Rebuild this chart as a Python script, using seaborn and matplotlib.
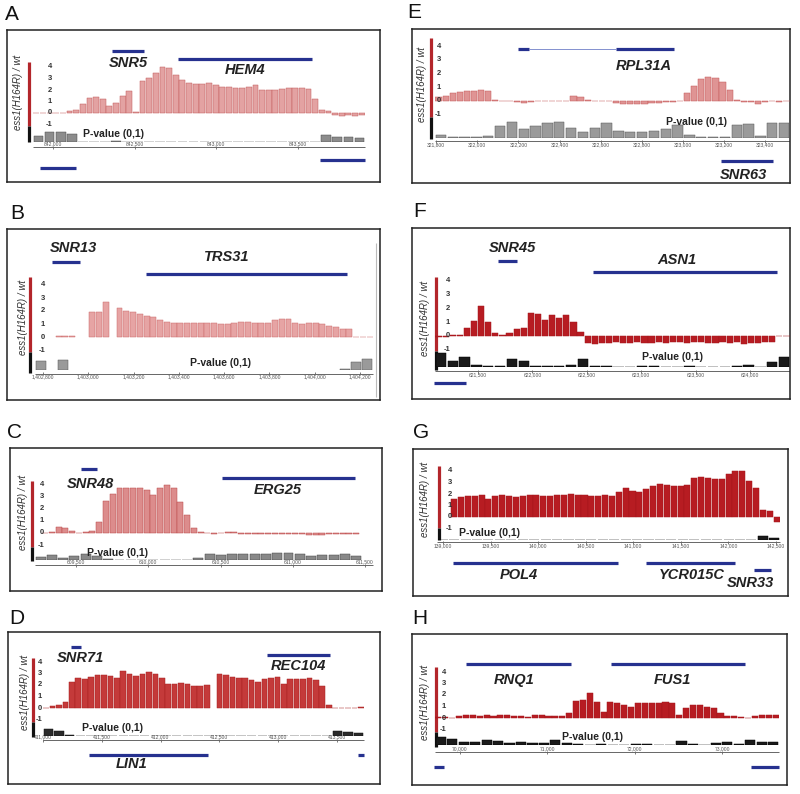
import numpy as np
import pandas as pd
import matplotlib.pyplot as plt
import seaborn as sns

nan = np.nan

# values: ratio track (log scale -1..4), p-value track (0..1)

# A  SNR5 / HEM4
A_REGION = [841878, 843910]
A_SIGNAL = [0.02, 0.02, 0.02, 0.02, 0.03, 0.15, 0.3, 0.8, 1.3, 1.35,
            1.2, 0.6, 0.9, 1.5, 1.9, 0.1, 2.8, 3.0, 3.5, 4.0,
            3.9, 3.3, 2.9, 2.6, 2.5, 2.5, 2.6, 2.4, 2.3, 2.3,
            2.2, 2.2, 2.3, 2.4, 2.0, 2.0, 2.0, 2.1, 2.2, 2.2,
            2.2, 2.1, 1.2, 0.3, 0.15, -0.2, -0.25, -0.2, -0.25, -0.2]
A_PVAL = [0.35, 0.65, 0.65, 0.5, 0.03, 0.02, 0.02, 0.06, 0.02, 0.02,
          0.02, 0.02, 0.02, 0.02, 0.02, 0.02, 0.02, 0.02, 0.02, 0.02,
          0.02, 0.02, 0.02, 0.02, 0.02, 0.02, 0.45, 0.3, 0.3, 0.25]
A_TICKS = [842000, 842500, 843000, 843500]
A_GENES = [("SNR5", 842361, 842557), ("HEM4", 842765, 843585),
           ("", 841921, 842141), ("", 843634, 843910)]

# E  RPL31A / SNR63
E_REGION = [321795, 323520]
E_SIGNAL = [0.3, 0.4, 0.6, 0.65, 0.7, 0.75, 0.8, 0.7, 0.05, 0.02,
            0.0, -0.1, -0.15, -0.05, 0.0, 0.0, 0.0, 0.0, 0.0, 0.35,
            0.3, 0.1, 0.0, 0.0, 0.0, -0.15, -0.2, -0.2, -0.2, -0.2,
            -0.15, -0.15, -0.1, -0.05, 0.0, 0.6, 1.1, 1.6, 1.75, 1.7,
            1.4, 0.8, 0.1, -0.1, -0.1, -0.2, -0.1, 0.0, -0.05, 0.0]
E_PVAL = [0.15, 0.05, 0.05, 0.05, 0.1, 0.55, 0.75, 0.45, 0.55, 0.7,
          0.75, 0.5, 0.3, 0.5, 0.7, 0.35, 0.3, 0.3, 0.35, 0.45,
          0.6, 0.15, 0.05, 0.05, 0.05, 0.6, 0.65, 0.1, 0.7, 0.7]
E_TICKS = [321800, 322000, 322200, 322400, 322600, 322800, 323000, 323200, 323400]
E_GENES = [("", 322198, 322252), ("RPL31A", 322675, 322957), ("SNR63", 323185, 323438)]
E_INTRON = [322252, 322675]

# B  SNR13 / TRS31
B_REGION = [1402764, 1404258]
B_SIGNAL = [nan, nan, nan, 0.1, 0.1, 0.1, nan, nan, 1.9, 1.9,
            2.7, nan, 2.2, 2.0, 1.9, 1.8, 1.6, 1.55, 1.3, 1.15,
            1.1, 1.05, 1.05, 1.05, 1.05, 1.05, 1.05, 1.0, 1.0, 1.1,
            1.15, 1.15, 1.1, 1.05, 1.1, 1.3, 1.4, 1.35, 1.1, 1.0,
            1.05, 1.05, 1.0, 0.85, 0.75, 0.6, 0.6, 0.02, 0.02, 0.02]
B_PVAL = [0.5, nan, 0.55, nan, nan, nan, nan, nan, nan, nan,
          nan, nan, nan, nan, nan, nan, nan, nan, nan, nan,
          nan, nan, nan, nan, nan, nan, nan, 0.03, 0.45, 0.6]
B_TICKS = [1402800, 1403000, 1403200, 1403400, 1403600, 1403800, 1404000, 1404200]
B_GENES = [("SNR13", 1402839, 1402963), ("TRS31", 1403255, 1404143)]

# F  SNR45 / ASN1
F_REGION = [621105, 624367]
F_SIGNAL = [-0.05, -0.1, 0.05, 0.1, 0.6, 1.1, 2.2, 1.0, 0.2, 0.1,
            0.2, 0.5, 0.55, 1.7, 1.6, 1.2, 1.5, 1.3, 1.5, 1.0,
            0.3, -0.5, -0.55, -0.5, -0.5, -0.45, -0.5, -0.5, -0.45, -0.5,
            -0.5, -0.45, -0.5, -0.45, -0.45, -0.5, -0.45, -0.45, -0.5, -0.5,
            -0.45, -0.5, -0.45, -0.55, -0.5, -0.5, -0.45, -0.4, -0.02, -0.02]
F_PVAL = [0.9, 0.35, 0.6, 0.1, 0.05, 0.05, 0.52, 0.35, 0.05, 0.05,
          0.05, 0.1, 0.52, 0.05, 0.05, 0.03, 0.03, 0.06, 0.05, 0.03,
          0.03, 0.05, 0.03, 0.03, 0.03, 0.05, 0.1, 0.03, 0.3, 0.6]
F_TICKS = [621500, 622000, 622500, 623000, 623500, 624000]
F_GENES = [("SNR45", 621684, 621859), ("ASN1", 622557, 624248), ("", 621096, 621390)]

# C  SNR48 / ERG25
C_REGION = [609215, 611555]
C_SIGNAL = [nan, 0.02, 0.05, 0.45, 0.4, 0.15, 0.02, 0.05, 0.15, 0.9,
            2.6, 3.2, 3.7, 3.7, 3.7, 3.7, 3.5, 3.1, 3.7, 3.9,
            3.7, 2.5, 1.5, 0.4, 0.05, 0.02, -0.05, 0.0, 0.05, 0.05,
            -0.05, -0.1, -0.1, -0.1, -0.1, -0.05, -0.05, -0.05, -0.05, -0.1,
            -0.15, -0.15, -0.15, -0.1, -0.1, -0.1, -0.1, -0.1, nan, nan]
C_PVAL = [0.2, 0.4, 0.15, 0.3, 0.5, 0.3, 0.05, 0.02, 0.03, 0.03,
          0.03, 0.03, 0.03, 0.03, 0.15, 0.45, 0.4, 0.45, 0.45, 0.5,
          0.5, 0.55, 0.55, 0.45, 0.3, 0.35, 0.4, 0.45, 0.3, nan]
C_TICKS = [609500, 610000, 610500, 611000, 611500]
C_GENES = [("SNR48", 609533, 609644), ("ERG25", 610509, 611429)]

# G  POL4 / YCR015C / SNR33
G_REGION = [138937, 142542]
G_SIGNAL = [nan, nan, 1.6, 1.7, 1.8, 1.8, 1.9, 1.6, 1.8, 1.9,
            1.8, 1.75, 1.8, 1.9, 1.9, 1.8, 1.8, 1.9, 1.9, 2.0,
            1.9, 1.9, 1.8, 1.8, 1.9, 1.8, 2.2, 2.5, 2.3, 2.2,
            2.4, 2.7, 2.9, 2.8, 2.7, 2.7, 2.75, 3.4, 3.5, 3.4,
            3.3, 3.3, 3.7, 4.0, 4.0, 3.1, 2.5, 0.6, 0.55, -0.4]
G_PVAL = [0.02, 0.02, 0.02, 0.02, 0.02, 0.02, 0.02, 0.02, 0.02, 0.02,
          0.02, 0.02, 0.02, 0.02, 0.02, 0.02, 0.02, 0.02, 0.02, 0.02,
          0.02, 0.02, 0.02, 0.02, 0.02, 0.02, 0.02, 0.02, 0.3, 0.2]
G_TICKS = [139000, 139500, 140000, 140500, 141000, 141500, 142000, 142500]
G_GENES = [("POL4", 139105, 140839), ("YCR015C", 141134, 142069), ("SNR33", 142269, 142447)]

# D  SNR71 / REC104 / LIN1
D_REGION = [411000, 413731]
D_SIGNAL = [0.02, 0.15, 0.3, 0.5, 2.3, 2.6, 2.5, 2.7, 2.9, 2.9,
            2.8, 2.6, 3.2, 3.0, 2.8, 3.0, 3.1, 3.0, 2.6, 2.1,
            2.1, 2.2, 2.1, 1.9, 1.9, 2.0, nan, 3.0, 2.9, 2.7,
            2.6, 2.6, 2.4, 2.3, 2.5, 2.6, 2.7, 2.1, 2.5, 2.5,
            2.5, 2.6, 2.4, 1.9, 0.3, 0.02, 0.02, 0.02, 0.02, 0.05]
D_PVAL = [0.5, 0.35, 0.1, 0.02, 0.02, 0.02, 0.02, 0.02, 0.02, 0.02,
          0.02, 0.02, 0.02, 0.02, 0.02, 0.02, 0.02, 0.02, 0.02, 0.02,
          0.02, 0.02, 0.02, 0.02, 0.02, 0.02, 0.02, 0.35, 0.3, 0.2]
D_TICKS = [411000, 411500, 412000, 412500, 413000, 413500]
D_GENES = [("SNR71", 411238, 411323), ("REC104", 412906, 413442),
           ("LIN1", 411391, 412404), ("", 413680, 413731)]

# H  RNQ1 / FUS1
H_REGION = [69714, 73651]
H_SIGNAL = [0.05, 0.05, 0.0, 0.2, 0.3, 0.25, 0.15, 0.3, 0.2, 0.25,
            0.3, 0.2, 0.2, 0.05, 0.25, 0.25, 0.2, 0.2, 0.2, 0.4,
            1.5, 1.6, 2.2, 1.4, 0.5, 1.4, 1.3, 1.1, 1.0, 1.3,
            1.3, 1.3, 1.3, 1.4, 1.3, 0.3, 0.9, 1.1, 1.1, 1.0,
            0.9, 0.4, 0.2, 0.2, 0.05, 0.02, 0.2, 0.3, 0.3, 0.25]
H_PVAL = [0.6, 0.5, 0.2, 0.25, 0.4, 0.3, 0.15, 0.2, 0.15, 0.15,
          0.35, 0.15, 0.05, 0.02, 0.1, 0.02, 0.02, 0.05, 0.05, 0.02,
          0.02, 0.3, 0.05, 0.02, 0.15, 0.2, 0.1, 0.35, 0.2, 0.2]
H_TICKS = [70000, 71000, 72000, 73000]
H_GENES = [("RNQ1", 70069, 71270), ("FUS1", 71727, 73261),
           ("", 69703, 69817), ("", 73330, 73651)]

SCALE_TICKS = [4, 3, 2, 1, 0, -1]

# pixel layout of each panel
LIGHT = dict(sig="#e3a2a2", edge="#c25a5a", p="#8c8c8c", pedge="#4a4a4a")
DARK = dict(sig="#b71c22", edge="#a3151b", p="#1a1a1a", pedge="#000000")
LAYOUT = {
    "A": dict(box=(7, 30, 380, 182), letter=(12, 15), data=(33, 365), zero=113, ppu=11.5,
              red=(62, 126), black_bot=142, pbase=142, bar_x=29, lab_x=52, ylab=(18, 92),
              axis=147, tick_va="bottom", pv=(83, 134, "left"),
              gpos=[(51, 128, 63), (59, 245, 70), (168, None, None), (160, None, None)], col=LIGHT),
    "E": dict(box=(412, 29, 790, 183), letter=(414, 13), data=(435, 790), zero=101, ppu=13.75,
              red=(38, 117), black_bot=139, pbase=138, bar_x=431, lab_x=441, ylab=(422, 84),
              axis=141, tick_va="top", pv=(697, 122, "center"),
              gpos=[(49, None, None), (49, 644, 66), (161, 743, 175)],
              col=dict(sig="#df9494", edge="#c55858", p="#9a9a9a", pedge="#555555")),
    "B": dict(box=(7, 229, 380, 400), letter=(17, 213), data=(35, 373), zero=337, ppu=13,
              red=(277, 352), black_bot=373, pbase=370, bar_x=30, lab_x=45, ylab=(23, 317),
              axis=373.5, tick_va="top", pv=(220, 363, "center"),
              gpos=[(262, 73, 248), (274, 227, 257)], vline=(376, 243, 397),
              col=dict(sig="#e6a4a4", edge="#cc6a6a", p="#9a9a9a", pedge="#555555")),
    "F": dict(box=(412, 228, 790, 399), letter=(420, 212), data=(435, 790), zero=336, ppu=13.75,
              red=(277, 351), black_bot=370, pbase=367, bar_x=436, lab_x=450, ylab=(425, 318),
              axis=371, tick_va="top", pv=(673, 357, "center"),
              gpos=[(261, 512, 248), (272, 677, 260), (383, None, None)], col=DARK),
    "C": dict(box=(10, 448, 382, 591), letter=(14, 432), data=(35, 373), zero=533, ppu=12.25,
              red=(481, 547), black_bot=561, pbase=560, bar_x=32, lab_x=44, ylab=(23, 512),
              axis=565, tick_va="bottom", pv=(87, 553, "left"),
              gpos=[(469, 90, 484), (478, 278, 490)],
              col=dict(sig="#dc8c8c", edge="#bb4848", p="#888888", pedge="#444444")),
    "G": dict(box=(413, 449, 788, 596), letter=(421, 433), data=(437, 780), zero=517, ppu=11.5,
              red=(466, 528), black_bot=540, pbase=540, bar_x=439, lab_x=452, ylab=(425, 499),
              axis=542, tick_va="top", pv=(459, 533, "left"),
              gpos=[(563, 519, 575), (563, 692, 575), (570, 750, 583)], col=DARK),
    "D": dict(box=(8, 632, 380, 784), letter=(17, 618), data=(43, 364), zero=708, ppu=11.5,
              red=(658, 722), black_bot=737, pbase=736, bar_x=33, lab_x=42, ylab=(25, 692),
              axis=740, tick_va="bottom", pv=(82, 728, "left"),
              gpos=[(647, 80, 658), (655, 298, 666), (755, 132, 764), (755, None, None)],
              col=dict(sig="#c43a3a", edge="#a82020", p="#2a2a2a", pedge="#111111")),
    "H": dict(box=(412, 634, 787, 785), letter=(420, 618), data=(435, 779), zero=718, ppu=11.5,
              red=(667, 732), black_bot=747, pbase=745, bar_x=436, lab_x=446, ylab=(425, 702),
              axis=752, tick_va="bottom", pv=(593, 737, "center"),
              gpos=[(664, 514, 680), (664, 672, 680), (767, None, None), (767, None, None)], col=DARK),
}

PANELS = [
    ("A", A_REGION, A_SIGNAL, A_PVAL, A_TICKS, A_GENES),
    ("E", E_REGION, E_SIGNAL, E_PVAL, E_TICKS, E_GENES),
    ("B", B_REGION, B_SIGNAL, B_PVAL, B_TICKS, B_GENES),
    ("F", F_REGION, F_SIGNAL, F_PVAL, F_TICKS, F_GENES),
    ("C", C_REGION, C_SIGNAL, C_PVAL, C_TICKS, C_GENES),
    ("G", G_REGION, G_SIGNAL, G_PVAL, G_TICKS, G_GENES),
    ("D", D_REGION, D_SIGNAL, D_PVAL, D_TICKS, D_GENES),
    ("H", H_REGION, H_SIGNAL, H_PVAL, H_TICKS, H_GENES),
]

BLUE = "#26318f"
RED_BAR = "#b3262b"

sns.set_theme(style="white")
plt.rcParams["font.family"] = ["Liberation Sans", "DejaVu Sans"]

W, H = 800, 794
fig = plt.figure(figsize=(W / 100, H / 100), dpi=100)


def frac(x0, y0, x1, y1):
    return [x0 / W, 1 - y1 / H, (x1 - x0) / W, (y1 - y0) / H]


def ftext(x, y, s, **kw):
    fig.text(x / W, 1 - y / H, s, **kw)


def track(ax, region, values, color, edge, lw):
    g0, g1 = region
    n = len(values)
    step = (g1 - g0) / n
    df = pd.DataFrame({"pos": g0 + step * (np.arange(n) + 0.5), "val": values}).dropna()
    sns.barplot(data=df, x="pos", y="val", native_scale=True, color=color, saturation=1,
                errorbar=None, width=0.88, edgecolor=edge, linewidth=lw, ax=ax)
    ax.set_xlim(g0, g1)
    ax.set_axis_off()


def draw_panel(key, region, signal, pval, ticks, genes):
    lay = LAYOUT[key]
    col = lay["col"]
    g0, g1 = region
    L, R = lay["data"]

    def gx(p):
        return g0 + (p - L) * (g1 - g0) / (R - L)

    x0, y0, x1, y1 = lay["box"]
    frame = fig.add_axes(frac(x0, y0, x1, y1))
    frame.set_xlim(gx(x0), gx(x1))
    frame.set_ylim(y1, y0)
    frame.set_xticks([])
    frame.set_yticks([])
    for sp in frame.spines.values():
        sp.set_visible(True)
        sp.set_color("#222222")
        sp.set_linewidth(1.1)

    # ratio track
    zero, ppu = lay["zero"], lay["ppu"]
    top_v, bot_v = 4.5, -1.4
    sig_ax = fig.add_axes(frac(L, zero - top_v * ppu, R, zero - bot_v * ppu))
    track(sig_ax, region, signal, col["sig"], col["edge"], 0.35)
    sig_ax.set_ylim(bot_v, top_v)

    # p-value track
    red_top, red_bot = lay["red"]
    p_ax = fig.add_axes(frac(L, red_bot, R, lay["pbase"]))
    track(p_ax, region, pval, col["p"], col["pedge"], 0.35)
    p_ax.set_ylim(0, 1)

    # scale bar and its labels
    bx = gx(lay["bar_x"])
    frame.vlines(bx, red_top, red_bot, color=RED_BAR, lw=2.3)
    frame.vlines(bx, red_bot, lay["black_bot"], color="#111111", lw=2.3)
    for v in SCALE_TICKS:
        ftext(lay["lab_x"], zero - v * ppu, str(v), ha="right", va="center",
              fontsize=5.5, fontweight="bold", color="#333333")
    ftext(lay["ylab"][0], lay["ylab"][1], "ess1(H164R) / wt", rotation=90,
          ha="center", va="center", fontsize=7, style="italic", color="#333333")

    # coordinate ruler
    ay = lay["axis"]
    frame.hlines(ay, g0, g1, color="#666666", lw=0.7)
    frame.vlines(ticks, ay - 1.5, ay + 1.5, color="#666666", lw=0.6)
    dy = -0.8 if lay["tick_va"] == "bottom" else 0.8
    for t in ticks:
        frame.text(t, ay + dy, f"{t:,}", ha="center", va=lay["tick_va"],
                   fontsize=3.6, color="#555555", clip_on=True)

    ftext(lay["pv"][0], lay["pv"][1], "P-value (0,1)", ha=lay["pv"][2], va="center",
          fontsize=7.5, fontweight="bold", color="#222222")

    # gene annotations
    for (name, s, e), (by, lx, ly) in zip(genes, lay["gpos"]):
        frame.hlines(by, s, e, color=BLUE, lw=2.3)
        if name:
            ftext(lx, ly, name, ha="center", va="center", fontsize=10.5,
                  fontweight="bold", style="italic", color="#222222")
    if key == "E":
        frame.hlines(49, E_INTRON[0], E_INTRON[1], color="#6f7fc8", lw=0.6)
    if "vline" in lay:
        vx, vy0, vy1 = lay["vline"]
        frame.vlines(gx(vx), vy0, vy1, color="#bbbbbb", lw=0.8)

    ftext(lay["letter"][0], lay["letter"][1], key, ha="center", va="center",
          fontsize=15, color="#111111")


for key, region, signal, pval, ticks, genes in PANELS:
    draw_panel(key, region, signal, pval, ticks, genes)

fig.savefig("out.png", dpi=100)
